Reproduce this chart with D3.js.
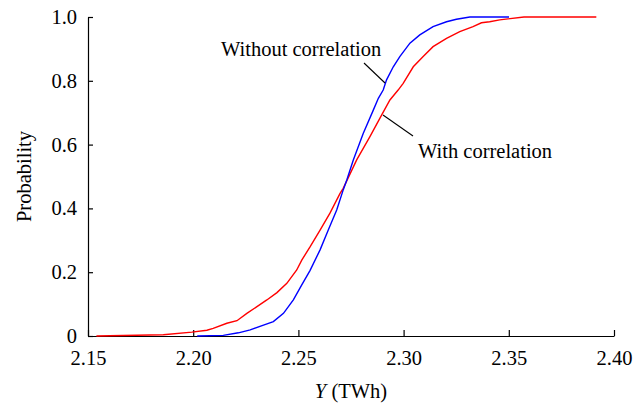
<!DOCTYPE html>
<html><head><meta charset="utf-8">
<script src="https://cdn.jsdelivr.net/npm/d3@7"></script>
<style>
html,body{margin:0;padding:0;background:#fff;}
</style></head>
<body><svg id="chart" width="644" height="406"></svg>
<script>
const xTicks = [2.15, 2.20, 2.25, 2.30, 2.35, 2.40];
const yTicks = [0, 0.2, 0.4, 0.6, 0.8, 1.0];
const yTickLabels = ["0", "0.2", "0.4", "0.6", "0.8", "1.0"];

const withoutX = [2.2019, 2.2143, 2.2215, 2.2271, 2.2334, 2.2381, 2.2429, 2.2476, 2.2516, 2.2555, 2.2603, 2.2642, 2.2682, 2.2713, 2.2730, 2.2761, 2.2808, 2.2856, 2.2880, 2.2903, 2.2919, 2.2951, 2.2982, 2.3030, 2.3077, 2.3140, 2.3204, 2.3251, 2.3315, 2.3501];
const withoutP = [0, 0.002, 0.010, 0.019, 0.034, 0.045, 0.071, 0.113, 0.160, 0.205, 0.270, 0.332, 0.395, 0.458, 0.489, 0.552, 0.635, 0.708, 0.745, 0.771, 0.803, 0.844, 0.876, 0.918, 0.944, 0.970, 0.985, 0.993, 1.0, 1.0];

const withX = [2.1540, 2.1858, 2.1994, 2.2065, 2.2095, 2.2160, 2.2208, 2.2255, 2.2303, 2.2350, 2.2398, 2.2445, 2.2492, 2.2516, 2.2556, 2.2603, 2.2650, 2.2698, 2.2713, 2.2777, 2.2840, 2.2896, 2.2935, 2.2974, 2.2998, 2.3046, 2.3093, 2.3140, 2.3204, 2.3267, 2.3330, 2.3370, 2.3409, 2.3457, 2.3572, 2.3916];
const withP = [0, 0.004, 0.012, 0.018, 0.024, 0.040, 0.048, 0.071, 0.092, 0.113, 0.136, 0.165, 0.207, 0.238, 0.280, 0.332, 0.385, 0.447, 0.463, 0.552, 0.625, 0.693, 0.740, 0.771, 0.792, 0.844, 0.876, 0.907, 0.933, 0.954, 0.970, 0.982, 0.985, 0.991, 1.0, 1.0];

const seriesNames = ["Without correlation", "With correlation"];
const seriesColors = ["#0000ff", "#ff0000"];

(function () {
const FONT = "'Liberation Serif', 'Times New Roman', serif";
const svg = d3.select("#chart");
const pl = 88, pr = 614, pt = 17, pb = 336;
const x = d3.scaleLinear().domain([2.15, 2.40]).range([pl, pr]);
const y = d3.scaleLinear().domain([0, 1]).range([pb, pt]);

const fs = 20.5;

// Axes
const xAxis = d3.axisBottom(x).tickValues(xTicks).tickFormat(d3.format(".2f")).tickSizeInner(-6).tickSizeOuter(0).tickPadding(14);
const gx = svg.append("g").attr("transform", `translate(0,${pb})`).call(xAxis)
  .attr("font-family", null).attr("font-size", null).style("font-family", FONT);
gx.select(".domain").attr("stroke", "#000").attr("stroke-width", 1.2);
gx.selectAll(".tick line").attr("stroke", "#000").attr("stroke-width", 1.2);
gx.selectAll(".tick text").style("font-size", fs + "px").style("font-family", FONT).attr("fill", "#000");

const yAxis = d3.axisLeft(y).tickValues(yTicks).tickFormat((d, i) => yTickLabels[i]).tickSizeInner(-5).tickSizeOuter(0).tickPadding(11);
const gy = svg.append("g").attr("transform", `translate(${pl},0)`).call(yAxis)
  .attr("font-family", null).attr("font-size", null).style("font-family", FONT);
gy.select(".domain").attr("stroke", "#000").attr("stroke-width", 1.2);
gy.selectAll(".tick line").attr("stroke", "#000").attr("stroke-width", 1.2);
gy.selectAll(".tick text").style("font-size", fs + "px").style("font-family", FONT).attr("fill", "#000");

// Lines
const line = d3.line().x(d => x(d[0])).y(d => y(d[1]));
const series = [d3.zip(withX, withP), d3.zip(withoutX, withoutP)];
const cols = [seriesColors[1], seriesColors[0]];
series.forEach((s, i) => {
  svg.append("path").datum(s).attr("d", line)
    .attr("fill", "none").attr("stroke", cols[i]).attr("stroke-width", 1.4);
});

const txt = (sel) => sel.style("font-family", FONT).style("font-size", fs + "px").attr("fill", "#000");

// Axis titles
const xt = svg.append("text").attr("x", (pl + pr) / 2).attr("y", 398).attr("text-anchor", "middle").call(txt);
xt.append("tspan").style("font-style", "italic").text("Y");
xt.append("tspan").text(" (TWh)");
svg.append("text").attr("transform", `translate(31,${(pt + pb) / 2}) rotate(-90)`)
  .attr("text-anchor", "middle").call(txt).text("Probability");

// Annotations
svg.append("text").attr("x", 221).attr("y", 56).call(txt).text(seriesNames[0]);
svg.append("line").attr("x1", 364).attr("y1", 63).attr("x2", 385).attr("y2", 83)
  .attr("stroke", "#000").attr("stroke-width", 1.1);
svg.append("text").attr("x", 418).attr("y", 158).call(txt).text(seriesNames[1]);
svg.append("line").attr("x1", 383).attr("y1", 115).attr("x2", 413).attr("y2", 136)
  .attr("stroke", "#000").attr("stroke-width", 1.1);
})();
</script></body></html>
